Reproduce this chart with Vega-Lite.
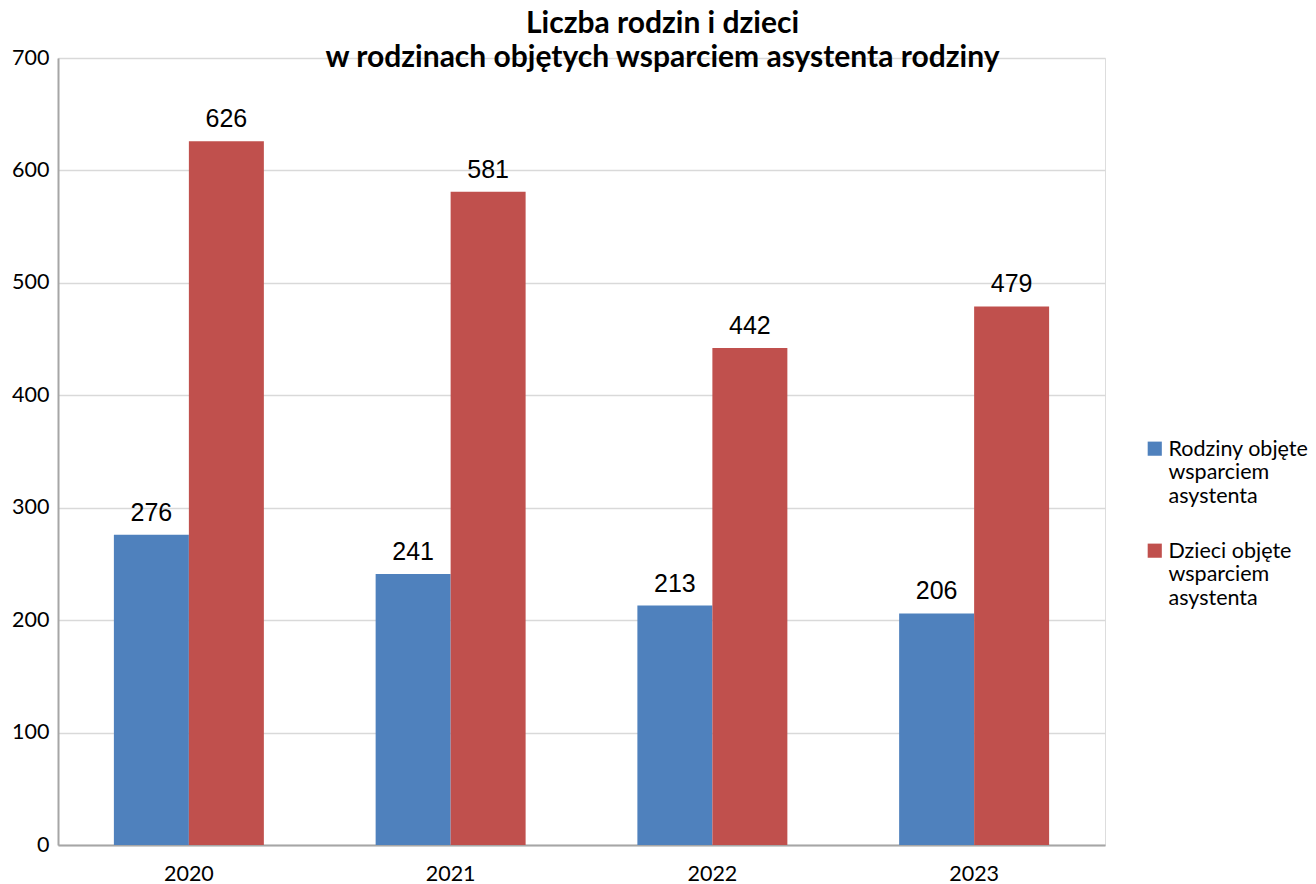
{
  "$schema": "https://vega.github.io/schema/vega-lite/v6.json",
  "autosize": "none",
  "width": 1047,
  "height": 787,
  "padding": {"left": 58, "top": 58, "right": 211, "bottom": 39},
  "background": "white",
  "title": {
    "text": ["Liczba rodzin i dzieci", "w rodzinach objętych wsparciem asystenta rodziny"],
    "font": "Lato",
    "fontSize": 30,
    "fontWeight": "bold",
    "color": "#000000",
    "anchor": "middle",
    "frame": "group",
    "dx": 81,
    "offset": -26,
    "lineHeight": 34
  },
  "data": {
    "values": [
      {"rok": "2020", "seria": "Rodziny", "wartosc": 276},
      {"rok": "2020", "seria": "Dzieci", "wartosc": 626},
      {"rok": "2021", "seria": "Rodziny", "wartosc": 241},
      {"rok": "2021", "seria": "Dzieci", "wartosc": 581},
      {"rok": "2022", "seria": "Rodziny", "wartosc": 213},
      {"rok": "2022", "seria": "Dzieci", "wartosc": 442},
      {"rok": "2023", "seria": "Rodziny", "wartosc": 206},
      {"rok": "2023", "seria": "Dzieci", "wartosc": 479}
    ]
  },
  "encoding": {
    "x": {
      "field": "rok",
      "type": "nominal",
      "scale": {"paddingInner": 0.427, "paddingOuter": 0.2135},
      "axis": {
        "title": null,
        "labelAngle": 0,
        "labelFont": "Lato",
        "labelFontSize": 21.5,
        "labelColor": "#000000",
        "labelPadding": 18,
        "ticks": false,
        "domainColor": "#a6a6a6",
        "domainWidth": 2,
        "grid": false
      }
    },
    "xOffset": {"field": "seria", "type": "nominal", "sort": ["Rodziny", "Dzieci"]},
    "y": {
      "field": "wartosc",
      "type": "quantitative",
      "scale": {"domain": [0, 700], "nice": false},
      "axis": {
        "title": null,
        "values": [0, 100, 200, 300, 400, 500, 600, 700],
        "labelFont": "Lato",
        "labelFontSize": 21.5,
        "labelColor": "#000000",
        "labelPadding": 9,
        "ticks": false,
        "domainColor": "#a6a6a6",
        "domainWidth": 2,
        "gridColor": "#d9d9d9",
        "gridWidth": 1.5
      }
    }
  },
  "layer": [
    {
      "mark": {"type": "bar"},
      "encoding": {
        "color": {
          "field": "seria",
          "type": "nominal",
          "sort": ["Rodziny", "Dzieci"],
          "scale": {"domain": ["Rodziny", "Dzieci"], "range": ["#4f81bd", "#c0504d"]},
          "legend": {
            "title": null,
            "orient": "none",
            "legendX": 1086,
            "legendY": 387,
            "symbolType": "M-1,-2H1V0H-1Z",
            "symbolSize": 200,
            "symbolStrokeWidth": 0,
            "labelFont": "Lato",
            "labelFontSize": 21.5,
            "labelLineHeight": 23.5,
            "labelColor": "#000000",
            "labelLimit": 300,
            "labelOffset": 3,
            "labelBaseline": "alphabetic",
            "rowPadding": 32,
            "labelExpr": "datum.label == 'Rodziny' ? ['Rodziny objęte', 'wsparciem', 'asystenta'] : ['Dzieci objęte', 'wsparciem', 'asystenta']"
          }
        }
      }
    },
    {
      "mark": {"type": "text", "baseline": "bottom", "dy": -9, "font": "Liberation Sans", "fontSize": 25, "color": "#000000"},
      "encoding": {
        "text": {"field": "wartosc", "type": "quantitative"}
      }
    }
  ]
}
